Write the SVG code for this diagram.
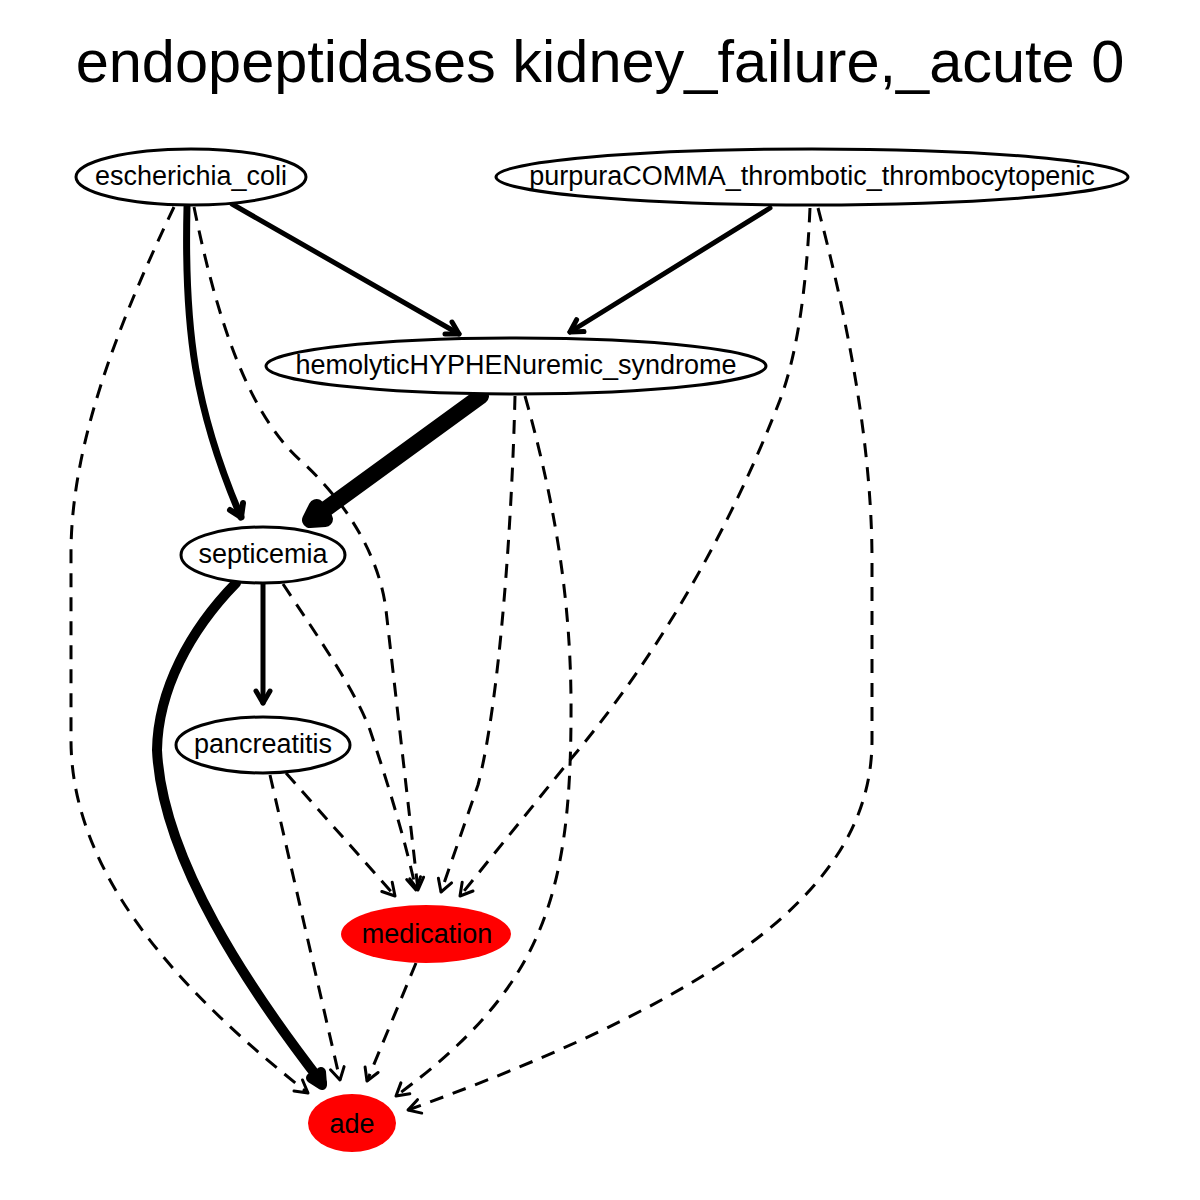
<svg xmlns="http://www.w3.org/2000/svg" width="1200" height="1200" viewBox="0 0 1200 1200">
<style>
.title{font-family:"Liberation Sans",Arial,sans-serif;font-size:59.5px;fill:#000;text-anchor:middle}
.lbl{font-family:"Liberation Sans",Arial,sans-serif;font-size:27px;fill:#000;text-anchor:middle}
.nd{fill:#fff;stroke:#000;stroke-width:3}
.red{fill:#ff0000;stroke:none}
.e{fill:none;stroke:#000;stroke-linecap:round;stroke-linejoin:round}
.d{stroke-width:3;stroke-dasharray:14,10;stroke-linecap:butt}
.h{stroke-width:3}
</style>
<rect width="1200" height="1200" fill="#fff"/>
<text class="title" x="600" y="82">endopeptidases kidney_failure,_acute 0</text>
<g id="connectors">
  <path class="e" stroke-width="7" d="M187,207 C184,330 195,410 241,517"/>
  <path class="e" stroke-width="6" d="M230,510 L241,517 L243,503"/>
  <path class="e" stroke-width="5" d="M232,204 L459,334"/>
  <path class="e" stroke-width="5" d="M445,334 L459,334 L452,322"/>
  <path class="e" stroke-width="5" d="M770,208 L570,332"/>
  <path class="e" stroke-width="5" d="M576.6,319.7 L570,332 L584,331.6"/>
  <path class="e" stroke-width="16" d="M481,396 L312,519"/>
  <path class="e" stroke-width="16" d="M316.5,507 L310,520 L325,519"/>
  <path class="e" stroke-width="5" d="M263,584 L263,703"/>
  <path class="e" stroke-width="5" d="M256,691 L263,703 L270,691"/>
  <path class="e" stroke-width="10" d="M236,583 C190,630 158,690 157,750 C162,860 250,990 322,1083"/>
  <path class="e" stroke-width="10" d="M311,1078 L322,1085 L321,1072"/>
  <path class="e d" d="M174,207 C120,320 72,440 71,550 L71,740 C71,880 190,1000 308,1093"/>
  <path class="e h" d="M294,1091 L308,1093 L302.5,1080"/>
  <path class="e d" d="M194,207 C215,310 245,410 300,460 C350,505 380,560 386,610 L418,890"/>
  <path class="e h" d="M409.8,878.8 L418,890 L423.6,877.2"/>
  <path class="e d" d="M515,396 C512,520 500,700 478,785 L441,892"/>
  <path class="e h" d="M438.4,878.3 L441,892 L451.6,882.9"/>
  <path class="e d" d="M525,396 C560,520 572,620 571,720 C570,900 540,990 396,1096"/>
  <path class="e h" d="M400.9,1082.9 L396,1096 L409.8,1093.7"/>
  <path class="e d" d="M810,208 C806,300 795,360 780,400 C745,490 680,630 570,760 L460,896"/>
  <path class="e h" d="M462.2,882.2 L460,896 L473,891"/>
  <path class="e d" d="M818,208 C845,310 872,440 872,560 L872,740 C872,880 740,990 408,1110"/>
  <path class="e h" d="M417.5,1099.7 L408,1110 L421.7,1113.1"/>
  <path class="e d" d="M283,584 C320,640 355,690 370,730 C390,790 405,840 416,890"/>
  <path class="e h" d="M406.7,879.5 L416,890 L420.5,876.7"/>
  <path class="e d" d="M286,773 L395,896"/>
  <path class="e h" d="M381.8,891.5 L395,896 L392.2,882.3"/>
  <path class="e d" d="M270,775 L340,1080"/>
  <path class="e h" d="M330.5,1069.8 L340,1080 L344.1,1066.6"/>
  <path class="e d" d="M416,963 L367,1081"/>
  <path class="e h" d="M365.1,1067.1 L367,1081 L378.1,1072.5"/>
</g>
<g id="escherichia_coli">
  <ellipse class="nd" cx="191" cy="177" rx="115" ry="28"/>
  <text class="lbl" x="191" y="185">escherichia_coli</text>
</g>
<g id="purpura">
  <ellipse class="nd" cx="812" cy="177" rx="316" ry="28"/>
  <text class="lbl" x="812" y="185">purpuraCOMMA_thrombotic_thrombocytopenic</text>
</g>
<g id="hemolytic">
  <ellipse class="nd" cx="516" cy="366" rx="250" ry="28"/>
  <text class="lbl" x="516" y="374">hemolyticHYPHENuremic_syndrome</text>
</g>
<g id="septicemia">
  <ellipse class="nd" cx="263" cy="555" rx="82" ry="28"/>
  <text class="lbl" x="263" y="563">septicemia</text>
</g>
<g id="pancreatitis">
  <ellipse class="nd" cx="263" cy="745" rx="87" ry="28"/>
  <text class="lbl" x="263" y="753">pancreatitis</text>
</g>
<g id="medication">
  <ellipse class="red" cx="426" cy="934" rx="85" ry="29"/>
  <text class="lbl" x="427" y="943">medication</text>
</g>
<g id="ade">
  <ellipse class="red" cx="352" cy="1123" rx="44" ry="29"/>
  <text class="lbl" x="352" y="1133">ade</text>
</g>
</svg>
